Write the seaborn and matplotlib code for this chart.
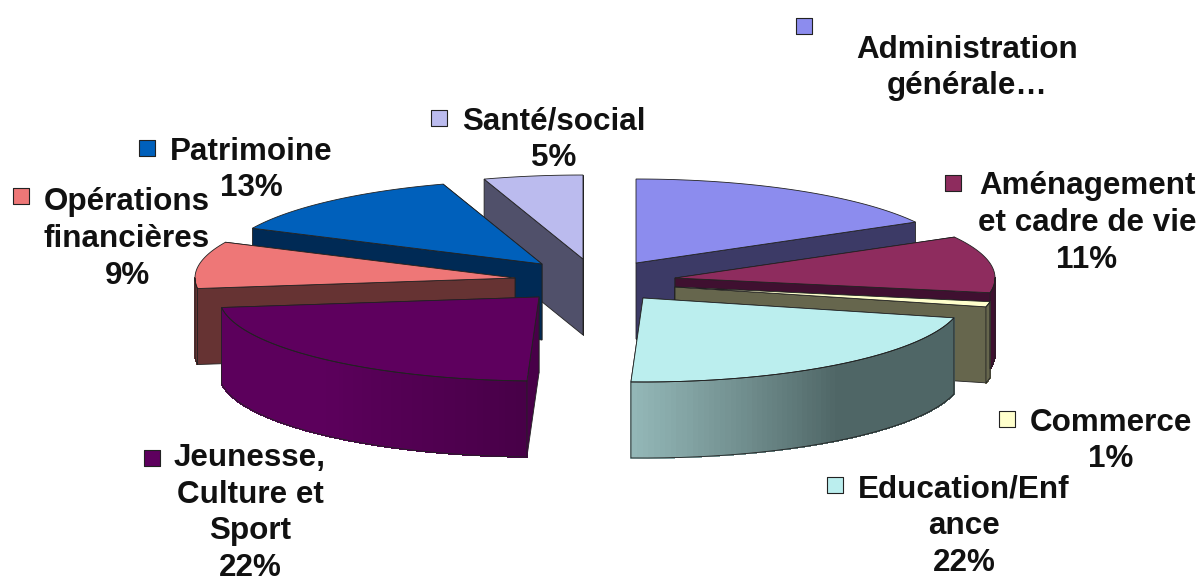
import numpy as np
import matplotlib
matplotlib.use('Agg')
import matplotlib.pyplot as plt
from matplotlib.collections import PolyCollection
import seaborn as sns

# Parts du camembert, dans le sens horaire depuis midi
categories = ['Administration générale', 'Aménagement et cadre de vie', 'Commerce',
              'Education/Enfance', 'Jeunesse, Culture et Sport',
              'Opérations financières', 'Patrimoine', 'Santé/social']
valeurs = [16.9, 10.9, 1.0, 21.8, 22.4, 9, 13, 5]
labels = ['Administration\ngénérale…', 'Aménagement\net cadre de vie\n11%', 'Commerce\n1%',
          'Education/Enf\nance\n22%', 'Jeunesse,\nCulture et\nSport\n22%',
          'Opérations\nfinancières\n9%', 'Patrimoine\n13%', 'Santé/social\n5%']

couleurs = ['#8c8cee', '#8e2c5e', '#ffffcc', '#bbeeee', '#5e005e', '#ee7777', '#0060bb', '#bbbbee']
couleurs_coupe = ['#3c3a66', '#3f1030', '#66664d', '#4f6666', '#480048', '#663333', '#002a55', '#50506a']
# Dégradé du bord extérieur, de droite à gauche
couleurs_bord = [['#3c3a66'], ['#3f1030'], ['#66664d'], ['#4f6666', '#4f6666', '#93b7b7'],
                 ['#480048', '#5c005c', '#5c005c'], ['#663333'], ['#002a55'], ['#50506a']]

# Position (pixels) de la pointe de chaque part éclatée
pointe_x = [636, 675, 675, 643, 539, 515, 542, 583]
pointe_y = [263, 278, 287, 298, 297, 278, 264, 259]

# Position des textes et des carrés de légende
texte_x = [967, 1087, 1111, 964, 250, 127, 251, 554]
texte_y = [68, 223, 441, 526, 513, 239, 170, 140]
carre_x = [804, 953, 1007, 835, 152, 21, 147, 439]
carre_y = [26, 183, 419, 485, 458, 196, 148, 118]

RX = 320
RY = 84
EPAISSEUR = 76
COTE_CARRE = 16


def point(cx, cy, angle):
    a = np.radians(angle)
    return cx + RX * np.cos(a), cy - RY * np.sin(a)


def mur_coupe(ax, cx, cy, angle, couleur):
    x, y = point(cx, cy, angle)
    ax.fill([cx, x, x, cx], [cy, y, y + EPAISSEUR, cy + EPAISSEUR],
            facecolor=couleur, edgecolor='#222222', linewidth=0.6)


def mur_bord(ax, cx, cy, debut, fin, palette):
    # seulement la partie du bord tournée vers le bas
    debut = min(debut, 0)
    fin = max(fin, -180)
    if debut <= fin:
        return
    angles = np.linspace(debut, fin, 80)
    xs, ys = point(cx, cy, angles)
    polys = []
    for i in range(len(angles) - 1):
        polys.append([(xs[i], ys[i]), (xs[i + 1], ys[i + 1]),
                      (xs[i + 1], ys[i + 1] + EPAISSEUR), (xs[i], ys[i] + EPAISSEUR)])
    teintes = sns.blend_palette(palette * 2 if len(palette) == 1 else palette, n_colors=len(polys))
    ax.add_collection(PolyCollection(polys, facecolors=teintes, edgecolors=teintes,
                                     linewidths=0.6, antialiaseds=False))
    contour_x = np.concatenate([xs, xs[::-1], xs[:1]])
    contour_y = np.concatenate([ys, ys[::-1] + EPAISSEUR, ys[:1]])
    ax.plot(contour_x, contour_y, color='#222222', linewidth=0.6)


def dessus(ax, cx, cy, debut, fin, couleur):
    angles = np.linspace(debut, fin, 80)
    xs, ys = point(cx, cy, angles)
    ax.fill(np.r_[cx, xs], np.r_[cy, ys], facecolor=couleur, edgecolor='#222222', linewidth=0.6)


sns.set_theme(style='white')
plt.rcParams['font.family'] = ['Liberation Sans', 'DejaVu Sans']

fig = plt.figure(figsize=(12.03, 5.83), dpi=100)
ax = fig.add_axes([0, 0, 1, 1])
ax.set_xlim(0, 1203)
ax.set_ylim(583, 0)
ax.axis('off')

# Angles de chaque part à partir des valeurs
cumul = np.cumsum([0] + valeurs) / sum(valeurs) * 360
debuts = 90 - cumul[:-1]
fins = 90 - cumul[1:]

# Ordre du peintre : du fond vers l'avant
ordre = [7, 6, 0, 5, 1, 2, 4, 3]
for i in ordre:
    cx, cy = pointe_x[i], pointe_y[i]
    # le mur dont l'extrémité est la plus haute passe en premier
    coupes = sorted([debuts[i], fins[i]], key=lambda a: point(cx, cy, a)[1])
    for angle in coupes:
        mur_coupe(ax, cx, cy, angle, couleurs_coupe[i])
    mur_bord(ax, cx, cy, debuts[i], fins[i], couleurs_bord[i])
    dessus(ax, cx, cy, debuts[i], fins[i], couleurs[i])

for i in range(len(categories)):
    ax.text(texte_x[i], texte_y[i], labels[i], ha='center', va='center', fontsize=22.6,
            fontweight='bold', color='#111111', linespacing=1.3)
    ax.scatter(carre_x[i], carre_y[i], marker='s', s=(COTE_CARRE * 0.72) ** 2, color=couleurs[i],
               edgecolor='#222222', linewidth=0.8, zorder=5)

plt.savefig('out.png', dpi=100)
plt.close()
